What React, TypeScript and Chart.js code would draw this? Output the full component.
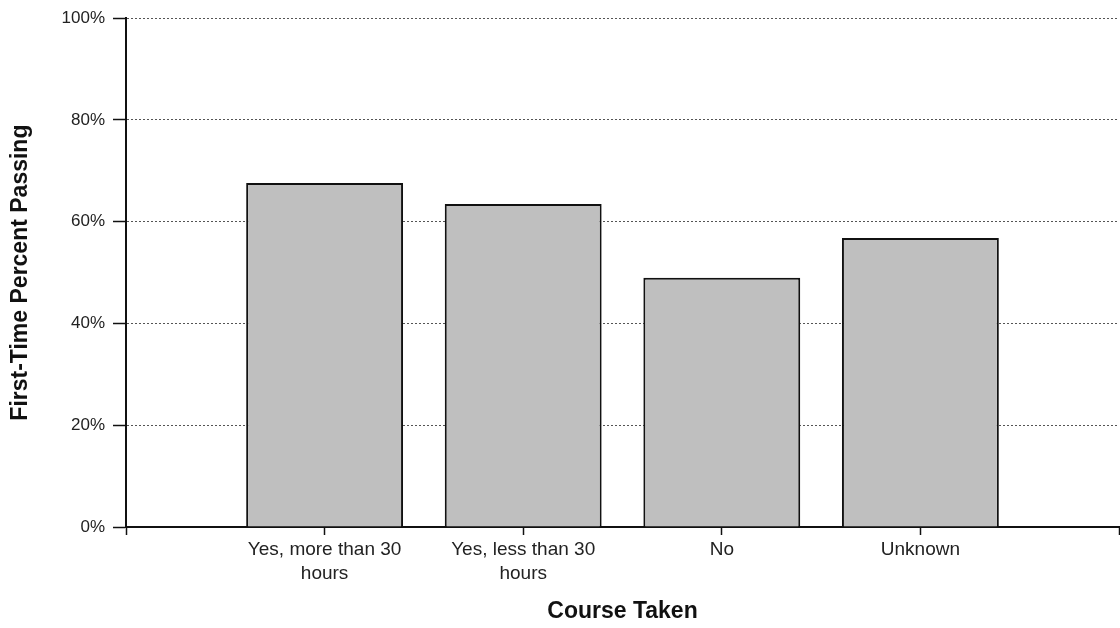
import React, { useEffect, useRef } from "react";
import { Chart, registerables } from "chart.js";

Chart.register(...registerables);

// Category labels (empty slots at both ends keep the original axis spacing)
const categories: (string | string[])[] = [
  "",
  ["Yes, more than 30", "hours"],
  ["Yes, less than 30", "hours"],
  "No",
  "Unknown",
  "",
];

// First-time percent passing per category
const passRates: (number | null)[] = [null, 67.6, 63.5, 49.0, 56.8, null];

// Y-axis tick values (percent)
const yTickValues: number[] = [0, 20, 40, 60, 80, 100];

const xTitle = "Course Taken";
const yTitle = "First-Time Percent Passing";

export default function App() {
  const canvasRef = useRef<HTMLCanvasElement | null>(null);

  useEffect(() => {
    document.body.style.margin = "0";
    document.body.style.overflow = "hidden";
    document.documentElement.style.overflow = "hidden";
    const canvas = canvasRef.current;
    if (!canvas) return;

    const chart = new Chart(canvas, {
      type: "bar",
      data: {
        labels: categories as any,
        datasets: [
          {
            data: passRates,
            backgroundColor: "#bfbfbf",
            borderColor: "#111111",
            borderWidth: 2,
            borderSkipped: "bottom",
            categoryPercentage: 1,
            barPercentage: 0.79,
          },
        ],
      },
      options: {
        responsive: false,
        animation: false,
        events: [],
        layout: { padding: { top: 18, left: 0, right: 0, bottom: 0 } },
        plugins: {
          legend: { display: false },
          tooltip: { enabled: false },
          title: { display: false },
        },
        scales: {
          x: {
            type: "category",
            offset: false,
            afterFit: (scale: any) => {
              scale.height = 101;
            },
            grid: {
              display: true,
              offset: false,
              drawOnChartArea: false,
              drawTicks: true,
              tickLength: 8,
              tickColor: "#111111",
              tickWidth: 1.5,
            },
            border: { display: true, color: "#111111", width: 2 },
            ticks: {
              autoSkip: false,
              maxRotation: 0,
              minRotation: 0,
              padding: 3,
              color: "#222222",
              font: { family: "'Liberation Sans', Arial, sans-serif", size: 19, lineHeight: 1.26 },
            },
            title: {
              display: true,
              text: xTitle,
              color: "#111111",
              padding: { top: 0, bottom: 3 },
              font: { family: "'Liberation Sans', Arial, sans-serif", size: 23, weight: "bold" },
            },
          },
          y: {
            min: 0,
            max: 100,
            afterFit: (scale: any) => {
              scale.width = 126;
            },
            afterBuildTicks: (scale: any) => {
              scale.ticks = yTickValues.map((v) => ({ value: v }));
            },
            grid: {
              display: true,
              color: "#555555",
              lineWidth: 1,
              drawTicks: true,
              tickLength: 13,
              tickColor: "#111111",
              tickWidth: 1.5,
              tickBorderDash: [],
            },
            border: { display: true, color: "#111111", width: 2, dash: [2, 2] },
            ticks: {
              padding: 8,
              color: "#222222",
              font: { family: "'Liberation Sans', Arial, sans-serif", size: 17 },
              callback: (v: any) => `${v}%`,
            },
            title: {
              display: true,
              text: yTitle,
              color: "#111111",
              padding: { top: 7, bottom: 0 },
              font: { family: "'Liberation Sans', Arial, sans-serif", size: 23, weight: "bold" },
            },
          },
        },
      },
    });

    return () => {
      chart.destroy();
    };
  }, []);

  return (
    <div style={{ width: 1120, height: 628, overflow: "hidden", position: "relative", background: "#ffffff" }}>
      <canvas ref={canvasRef} width={1122} height={628} style={{ display: "block", width: 1122, height: 628 }} />
    </div>
  );
}
